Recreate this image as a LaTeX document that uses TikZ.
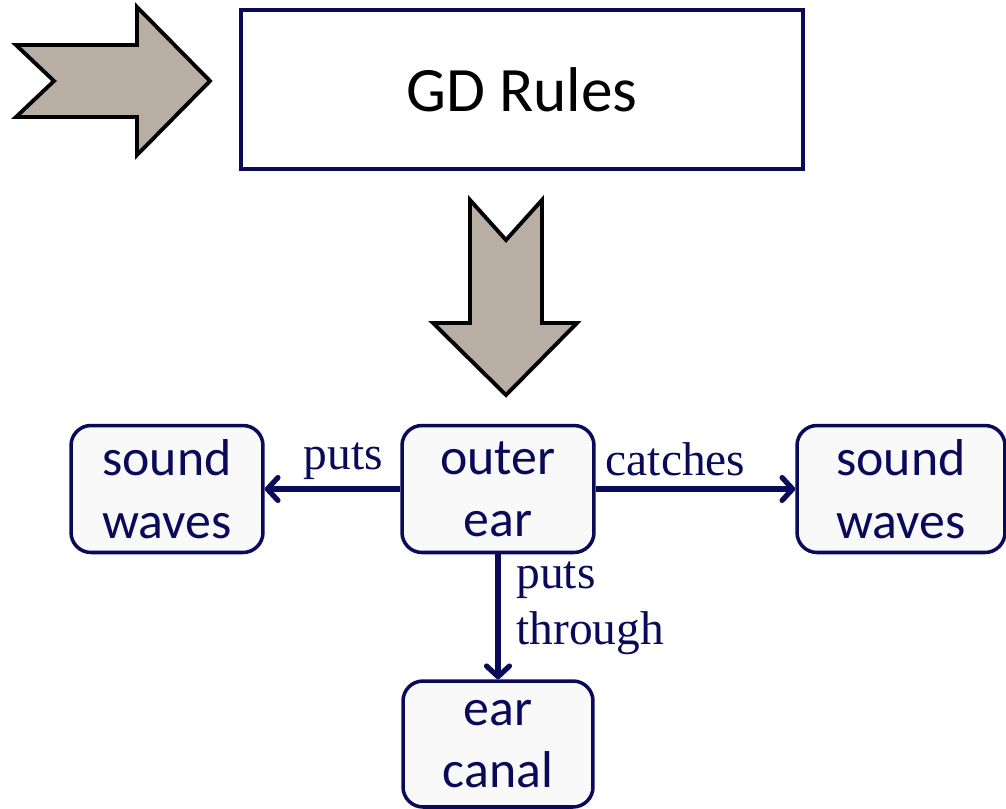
\documentclass[tikz,border=0pt]{standalone}
\usepackage{fontspec}
\setmainfont{Liberation Serif}
\newfontfamily\boxfont{Carlito}
\usetikzlibrary{arrows.meta}

\definecolor{navy}{RGB}{10,10,90}
\definecolor{arrowgray}{RGB}{184,174,164}
\definecolor{boxfill}{RGB}{249,249,249}

\tikzset{
  concept/.style={draw=navy, line width=2pt, fill=boxfill, rounded corners=0.4cm,
    minimum width=3.84cm, minimum height=2.54cm, inner sep=0pt, align=center,
    text=navy, font=\boxfont\fontsize{29.5}{35.5}\selectfont},
  link/.style={draw=navy, line width=3pt, -{Straight Barb[length=6pt,width=13pt,line cap=round,line join=round]}},
  linklabel/.style={text=navy, inner sep=0pt, font=\fontsize{27}{31.8}\selectfont},
  bigarrow/.style={fill=arrowgray, draw=black, line width=2.2pt, line join=miter}
}

\begin{document}
\begin{tikzpicture}[x=0.02cm, y=-0.02cm]
  \useasboundingbox (0,0) rectangle (1006,808);

  % block arrows
  \filldraw[bigarrow] (16,45) -- (54,81) -- (16,117) -- (137,117) -- (137,155)
    -- (210,81) -- (137,7) -- (137,45) -- cycle;
  \filldraw[bigarrow] (470,200) -- (506,240) -- (542,200) -- (542,323) -- (577,323)
    -- (506,395) -- (433,323) -- (470,323) -- cycle;

  \node[draw=navy, line width=2pt, fill=white, minimum width=11.24cm, minimum height=3.18cm,
    font=\boxfont\fontsize{36}{43}\selectfont] (rules) at (522,89.5) {GD Rules};

  \node[concept] (outer) at (498,489) {outer\\ear};
  \node[concept] (wavesL) at (167,489) {sound\\waves};
  \node[concept, minimum width=4.16cm] (wavesR) at (901,489) {sound\\waves};
  \node[concept, minimum width=3.8cm, minimum height=2.52cm] (canal) at (498,744) {ear\\canal};

  \draw[link] (outer) -- node[linklabel, pos=0.42, above=4pt] {puts} (wavesL);
  \draw[link] (outer) -- node[linklabel, pos=0.4, above=6pt] {catches} (wavesR);
  \draw[link] (outer) -- node[linklabel, pos=0.43, right=9pt, align=left] {puts\\through} (canal);
\end{tikzpicture}
\end{document}
